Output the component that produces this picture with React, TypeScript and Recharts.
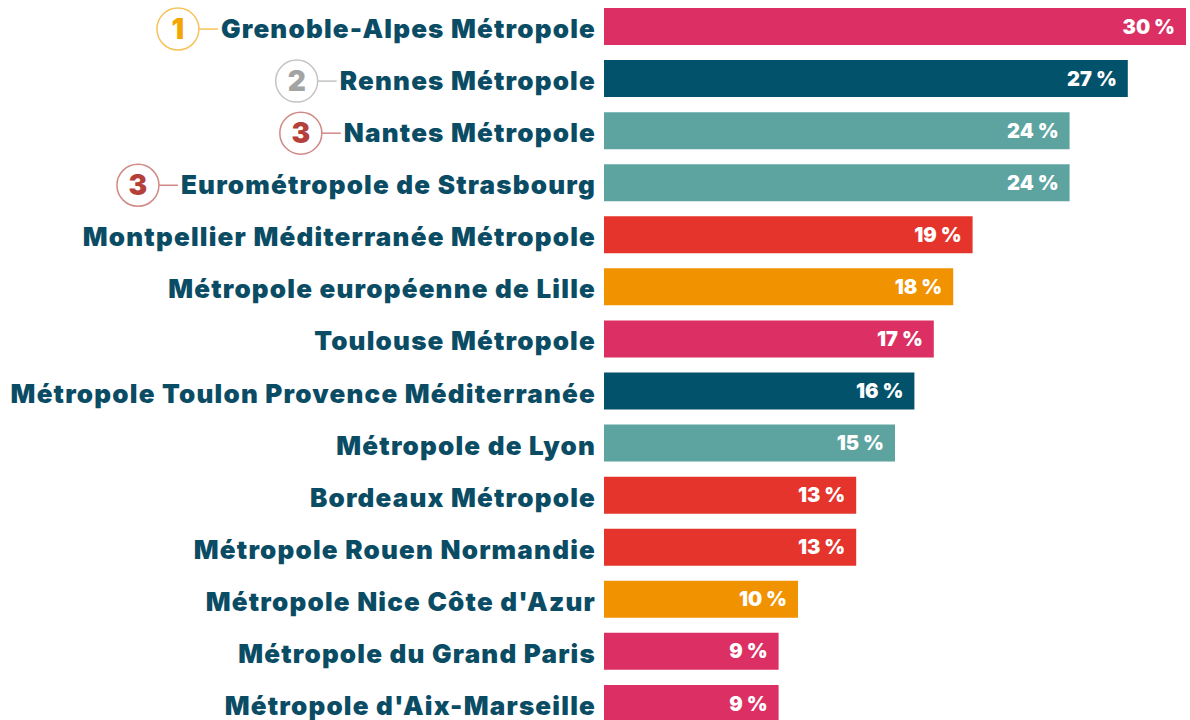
import React, { useLayoutEffect, useRef, useState } from "react";
import { BarChart, Bar, XAxis, YAxis, Cell, LabelList } from "recharts";

const categories = [
  "Grenoble-Alpes Métropole",
  "Rennes Métropole",
  "Nantes Métropole",
  "Eurométropole de Strasbourg",
  "Montpellier Méditerranée Métropole",
  "Métropole européenne de Lille",
  "Toulouse Métropole",
  "Métropole Toulon Provence Méditerranée",
  "Métropole de Lyon",
  "Bordeaux Métropole",
  "Métropole Rouen Normandie",
  "Métropole Nice Côte d'Azur",
  "Métropole du Grand Paris",
  "Métropole d'Aix-Marseille",
];

const values = [30, 27, 24, 24, 19, 18, 17, 16, 15, 13, 13, 10, 9, 9];

const ranks = ["1", "2", "3", "3", "", "", "", "", "", "", "", "", "", ""];

const PINK = "#DC2F63";
const DARK = "#02526B";
const TEAL = "#5DA4A0";
const RED = "#E4342B";
const ORANGE = "#F19200";

const barColors = [PINK, DARK, TEAL, TEAL, RED, ORANGE, PINK, DARK, TEAL, RED, RED, ORANGE, PINK, PINK];

const rankColors: Record<string, { num: string; ring: string }> = {
  "1": { num: "#F4A500", ring: "#F7C25A" },
  "2": { num: "#A3A3A3", ring: "#C4C4C4" },
  "3": { num: "#B5403A", ring: "#D08A85" },
};

const data = categories.map((name, i) => ({ name, value: values[i], rank: ranks[i] }));

const FONT = "Inter, 'Noto Sans', sans-serif";
const TEXT_COLOR = "#0B4C65";

function YTick(props: any) {
  const { x, y, payload, index } = props;
  const ref = useRef<SVGTextElement>(null);
  const [w, setW] = useState(0);
  useLayoutEffect(() => {
    if (ref.current) setW(ref.current.getBBox().width);
  }, [payload.value]);
  const rank = ranks[index];
  const start = x - w;
  const rc = rank ? rankColors[rank] : null;
  return (
    <g>
      <text
        ref={ref}
        x={x}
        y={y + 12}
        textAnchor="end"
        fill={TEXT_COLOR}
        fontFamily={FONT}
        fontWeight={900}
        fontSize={26}
        letterSpacing={1.2}
      >
        {payload.value}
      </text>
      {rc && w > 0 && (
        <g>
          <circle cx={start - 43} cy={y + 3} r={21} fill="#fff" stroke={rc.ring} strokeWidth={1.5} />
          <line x1={start - 22} y1={y + 3} x2={start - 3} y2={y + 3} stroke={rc.ring} strokeWidth={1.5} />
          <text
            x={start - 43}
            y={y + 13}
            textAnchor="middle"
            fill={rc.num}
            fontFamily={FONT}
            fontWeight={900}
            fontSize={28}
          >
            {rank}
          </text>
        </g>
      )}
    </g>
  );
}

export default function App() {
  return (
    <div style={{ position: "absolute", left: 0, top: 0, width: 1190, height: 720, overflow: "hidden", background: "#fff" }}>
      <BarChart
        width={1190}
        height={729}
        data={data}
        layout="vertical"
        margin={{ top: 0, right: 4, bottom: 0, left: 0 }}
        barSize={37}
      >
        <XAxis type="number" domain={[0, 30]} hide />
        <YAxis
          type="category"
          dataKey="name"
          width={604}
          axisLine={false}
          tickLine={false}
          tickMargin={2}
          tick={<YTick />}
          interval={0}
        />
        <Bar dataKey="value" isAnimationActive={false}>
          {data.map((d, i) => (
            <Cell key={d.name} fill={barColors[i]} />
          ))}
          <LabelList
            dataKey="value"
            position="insideRight"
            offset={11}
            formatter={(v: any) => `${v} %`}
            fill="#fff"
            fontFamily={FONT}
            fontWeight={900}
            fontSize={20}
          />
        </Bar>
      </BarChart>
    </div>
  );
}
